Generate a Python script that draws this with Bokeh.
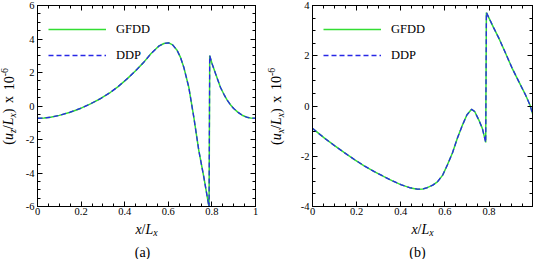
import math
from bokeh.plotting import figure
from bokeh.models import FixedTicker, LinearAxis, Range1d, Label
from bokeh.layouts import row, column
from bokeh.embed import file_html
from bokeh.resources import INLINE

# ---------------- data ----------------
# panel (a): u_z / L_x  (x 1e-6)
xa = [0.0, 0.03, 0.06, 0.10, 0.15, 0.20, 0.243, 0.29, 0.335, 0.37, 0.411, 0.45,
      0.488, 0.52, 0.557, 0.58, 0.602, 0.62, 0.641, 0.656, 0.671, 0.694, 0.717,
      0.740, 0.763, 0.787, 0.790, 0.800, 0.817, 0.839, 0.855, 0.870, 0.885,
      0.900, 0.920, 0.939, 0.960, 0.977, 1.0]
ua_gfdd = [-0.73, -0.72, -0.67, -0.56, -0.37, -0.13, 0.13, 0.45, 0.82, 1.16, 1.62, 2.10,
           2.62, 3.12, 3.58, 3.73, 3.77, 3.65, 3.31, 2.90, 2.32, 1.12, -0.67,
           -2.66, -4.25, -6.05, 3.01, 2.55, 1.92, 1.12, 0.70, 0.35, 0.08,
           -0.15, -0.38, -0.55, -0.67, -0.72, -0.73]
ua_ddp = [-0.73, -0.72, -0.67, -0.56, -0.37, -0.13, 0.13, 0.45, 0.82, 1.16, 1.62, 2.10,
          2.62, 3.12, 3.58, 3.73, 3.77, 3.65, 3.31, 2.90, 2.32, 1.12, -0.67,
          -2.66, -4.25, -6.05, 3.01, 2.55, 1.92, 1.12, 0.70, 0.35, 0.08,
          -0.15, -0.38, -0.55, -0.67, -0.72, -0.73]

# panel (b): u_x / L_x  (x 1e-6)
xb = [0.0, 0.053, 0.10, 0.143, 0.19, 0.234, 0.28, 0.324, 0.36, 0.40, 0.44, 0.475,
      0.50, 0.52, 0.545, 0.566, 0.59, 0.611, 0.635, 0.656, 0.68, 0.70, 0.721,
      0.735, 0.754, 0.770, 0.785, 0.788, 0.80, 0.82, 0.845, 0.87, 0.905, 0.935,
      0.966, 0.985, 0.997]
ub_gfdd = [-0.89, -1.27, -1.58, -1.85, -2.13, -2.38, -2.61, -2.81, -2.97, -3.13, -3.25, -3.31,
           -3.30, -3.25, -3.15, -3.02, -2.75, -2.35, -1.85, -1.29, -0.75, -0.35, -0.13,
           -0.22, -0.56, -0.90, -1.45, 3.72, 3.50, 3.13, 2.69, 2.20, 1.50, 0.97,
           0.43, 0.05, -0.30]
ub_ddp = [-0.89, -1.27, -1.58, -1.85, -2.13, -2.38, -2.61, -2.81, -2.97, -3.13, -3.25, -3.31,
          -3.30, -3.25, -3.15, -3.02, -2.75, -2.35, -1.85, -1.29, -0.75, -0.35, -0.13,
          -0.22, -0.56, -0.90, -1.45, 3.72, 3.50, 3.13, 2.69, 2.20, 1.50, 0.97,
          0.43, 0.05, -0.30]

series_names = ["GFDD", "DDP"]
xa_ticks = [0, 0.2, 0.4, 0.6, 0.8, 1]
xa_tick_labels = ["0", "0.2", "0.4", "0.6", "0.8", "1"]
ya_ticks = [-6, -4, -2, 0, 2, 4, 6]
ya_tick_labels = ["-6", "-4", "-2", "0", "2", "4", "6"]
xb_ticks = [0, 0.2, 0.4, 0.6, 0.8]
xb_tick_labels = ["0", "0.2", "0.4", "0.6", "0.8"]
yb_ticks = [-4, -2, 0, 2, 4]
yb_tick_labels = ["-4", "-2", "0", "2", "4"]

SERIF = "Liberation Serif"
GREEN = "#33dd33"
BLUE = "#2828e6"

REG = {"(": 0.333, ")": 0.333, "/": 0.278, "x": 0.5, "1": 0.5, "0": 0.5,
       "-": 0.333, "6": 0.5, "a": 0.444, "b": 0.5}
ITA = {"u": 0.5, "z": 0.389, "L": 0.556, "x": 0.444}


def twidth(s, italic, size):
    tbl = ITA if italic else REG
    return sum(tbl[c] for c in s) * size


def rich_label(p, pieces, x, y, vertical, F):
    ws = []
    for t, it, kind in pieces:
        if kind == "gap":
            ws.append(t * F)
        else:
            ws.append(twidth(t, it, F if kind == 0 else 0.7 * F))
    pos = -sum(ws) / 2.0
    for (t, it, kind), w in zip(pieces, ws):
        if kind != "gap":
            size = F if kind == 0 else 0.7 * F
            if vertical:
                shift = {0: 0.0, -1: 0.32 * F, 1: -0.30 * F}[kind]
                lab = Label(x=x, y=y, x_units="data", y_units="data", text=t,
                            text_font=SERIF, text_font_size=f"{size:.1f}px",
                            text_font_style="italic" if it else "normal",
                            text_color="black", text_align="left",
                            text_baseline="middle", angle=math.pi / 2,
                            x_offset=shift, y_offset=pos)
            else:
                shift = {0: 0.0, -1: 0.22 * F, 1: -0.4 * F}[kind]
                lab = Label(x=x, y=y, x_units="data", y_units="data", text=t,
                            text_font=SERIF, text_font_size=f"{size:.1f}px",
                            text_font_style="italic" if it else "normal",
                            text_color="black", text_align="left",
                            text_baseline="alphabetic",
                            x_offset=pos, y_offset=-shift)
            p.add_layout(lab)
        pos += w


def style_axis(ax, ticks, minor, labels, show_labels, standoff):
    ax.ticker = FixedTicker(ticks=ticks, minor_ticks=minor)
    ax.axis_line_color = "black"
    ax.axis_line_width = 1
    ax.major_tick_in = 5
    ax.major_tick_out = 0
    ax.minor_tick_in = 3
    ax.minor_tick_out = 0
    ax.major_tick_line_color = "black"
    ax.minor_tick_line_color = "black"
    ax.major_label_overrides = {t: l for t, l in zip(ticks, labels)}
    if show_labels:
        ax.major_label_text_font = SERIF
        ax.major_label_text_font_size = "10.5px"
        ax.major_label_text_color = "black"
        ax.major_label_standoff = standoff
    else:
        ax.major_label_text_font_size = "1px"
        ax.major_label_text_color = None
        ax.major_label_standoff = 0
    ax.axis_label = None


def panel(xs, y1, y2, xr, yr, xt, xtl, yt, ytl, width, bl, br):
    p = figure(width=width, height=219, x_range=Range1d(*xr), y_range=Range1d(*yr),
               output_backend="svg", toolbar_location=None,
               min_border_left=bl, min_border_right=br,
               min_border_top=5, min_border_bottom=13,
               background_fill_color="white", border_fill_color="white")
    p.grid.visible = False
    p.outline_line_color = "black"
    p.outline_line_width = 1
    xminor = [i * 0.05 for i in range(0, 21) if i * 0.05 <= xr[1] + 1e-9]
    yminor = [yr[0] + i * 0.5 for i in range(int((yr[1] - yr[0]) / 0.5) + 1)]
    style_axis(p.xaxis[0], xt, xminor, xtl, True, 1)
    style_axis(p.yaxis[0], yt, yminor, ytl, True, 3)
    top = LinearAxis()
    style_axis(top, xt, xminor, xtl, False, 0)
    p.add_layout(top, "above")
    right = LinearAxis()
    style_axis(right, yt, yminor, ytl, False, 0)
    p.add_layout(right, "right")
    p.line(xs, y1, line_color=GREEN, line_width=1.5, legend_label=series_names[0])
    p.line(xs, y2, line_color=BLUE, line_width=1.3, line_dash="5 3",
           legend_label=series_names[1])
    lg = p.legend[0]
    lg.location = "top_left"
    lg.margin = 0
    lg.padding = 11
    lg.spacing = -10
    lg.glyph_width = 58
    lg.glyph_height = 26
    lg.label_height = 26
    lg.label_standoff = 10
    lg.label_text_font = SERIF
    lg.label_text_font_size = "12.5px"
    lg.label_text_color = "black"
    lg.background_fill_alpha = 0
    lg.border_line_alpha = 0
    return p


def strip(w, h):
    s = figure(width=w, height=h, x_range=Range1d(0, w), y_range=Range1d(0, h),
               min_border=0, toolbar_location=None, output_backend="svg",
               x_axis_type=None, y_axis_type=None,
               outline_line_color=None, background_fill_color="white",
               border_fill_color="white")
    s.grid.visible = False
    return s


ylab_a = [("(", False, 0), ("u", True, 0), ("z", True, -1), ("/", False, 0),
          ("L", True, 0), ("x", True, -1), (")", False, 0), (0.4, False, "gap"),
          ("x", False, 0), (0.4, False, "gap"), ("10", False, 0), ("-6", False, 1)]
ylab_b = [("(", False, 0), ("u", True, 0), ("x", True, -1), ("/", False, 0),
          ("L", True, 0), ("x", True, -1), (")", False, 0), (0.4, False, "gap"),
          ("x", False, 0), (0.4, False, "gap"), ("10", False, 0), ("-6", False, 1)]
xlab = [("x", True, 0), ("/", False, 0), ("L", True, 0), ("x", True, -1)]

MAIN_H = 219
BOT_H = 40

# panel (a)
pa = panel(xa, ua_gfdd, ua_ddp, (0, 1), (-6, 6), xa_ticks, xa_tick_labels,
           ya_ticks, ya_tick_labels, 245, 17, 10)
sa = strip(20, MAIN_H)
rich_label(sa, ylab_a, 8, MAIN_H - 110, True, 14)
ba = strip(265, BOT_H)
rich_label(ba, xlab, 146, BOT_H - 10, False, 14)
ba.add_layout(Label(x=142, y=BOT_H - 33, x_units="data", y_units="data", text="(a)",
                    text_font=SERIF, text_font_size="14px", text_align="center",
                    text_baseline="alphabetic", text_color="black"))

# panel (b)
pb = panel(xb, ub_gfdd, ub_ddp, (0, 0.997), (-4, 4), xb_ticks, xb_tick_labels,
           yb_ticks, yb_tick_labels, 245, 24, 1)
sb = strip(23, MAIN_H)
rich_label(sb, ylab_b, 10.5, MAIN_H - 110, True, 14)
bb = strip(268, BOT_H)
rich_label(bb, xlab, 157, BOT_H - 10, False, 14)
bb.add_layout(Label(x=152, y=BOT_H - 33, x_units="data", y_units="data", text="(b)",
                    text_font=SERIF, text_font_size="14px", text_align="center",
                    text_baseline="alphabetic", text_color="black"))

layout = row(column(row(sa, pa, spacing=0), ba, spacing=0),
             column(row(sb, pb, spacing=0), bb, spacing=0), spacing=0)
open("out.html", "w").write(file_html(layout, INLINE))
